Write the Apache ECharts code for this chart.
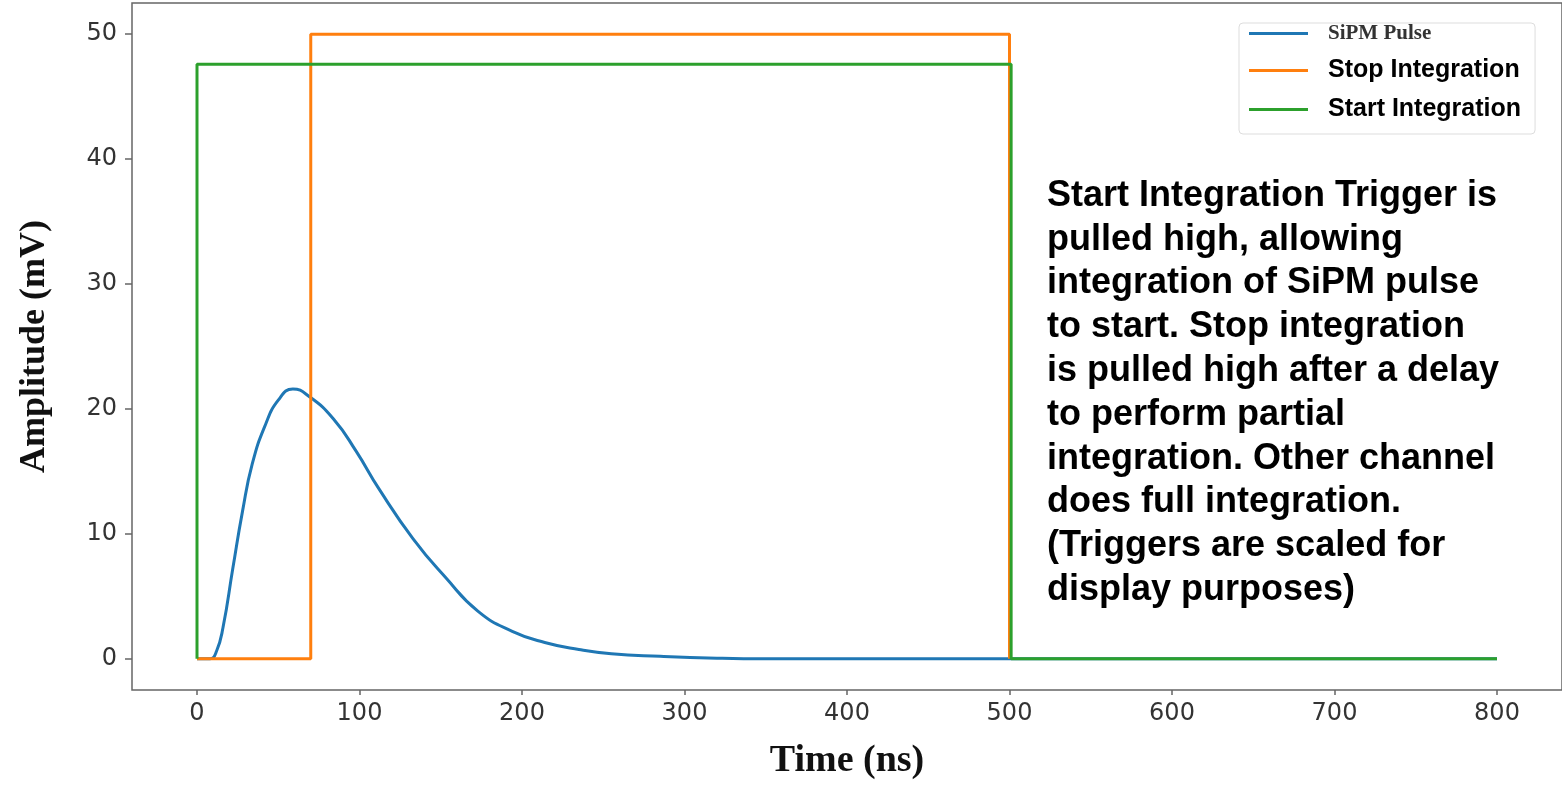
<!DOCTYPE html>
<html>
<head>
<meta charset="utf-8">
<script src="https://cdn.jsdelivr.net/npm/echarts@6/dist/echarts.min.js"></script>
<style>
  html, body { margin: 0; padding: 0; background: #fff; }
  #chart { width: 1562px; height: 785px; }
</style>
</head>
<body>
<div id="chart"></div>
<script>
// values (time in ns, amplitude in mV)
const pulseTime = [0, 8, 12, 16, 22, 28, 34, 42, 50, 59, 69, 84, 98, 112, 133, 153, 173, 194, 214, 235, 255, 285, 320, 350, 800]
const pulseAmp  = [0, 0, 0.6, 2.5, 7.2, 11.8, 15.6, 18.7, 20.7, 21.6, 21.0, 19.2, 16.6, 13.6, 9.6, 6.5, 3.8, 2.2, 1.3, 0.74, 0.4, 0.2, 0.05, 0, 0]

const stopTime = [0, 70, 70, 500, 500]
const stopAmp  = [0, 0, 50, 50, 0]

const startTime = [0, 0, 501, 501, 800]
const startAmp  = [0, 47.6, 47.6, 0, 0]

const xTicks = [0, 100, 200, 300, 400, 500, 600, 700, 800]
const yTicks = [0, 10, 20, 30, 40, 50]

const seriesNames = ['SiPM Pulse', 'Stop Integration', 'Start Integration']
const noteLines = [
  'Start Integration Trigger is',
  'pulled high, allowing',
  'integration of SiPM pulse',
  'to start. Stop integration',
  'is pulled high after a delay',
  'to perform partial',
  'integration. Other channel',
  'does full integration.',
  '(Triggers are scaled for',
  'display purposes)'
]

const zip = (xs, ys) => xs.map((x, i) => [x, ys[i]])

const chart = echarts.init(document.getElementById('chart'))

const tickFont = { fontFamily: 'DejaVu Sans', fontSize: 24, color: '#333' }

const option = {
  animation: false,
  backgroundColor: '#fff',
  grid: {
    left: 132,
    top: 3,
    width: 1437,
    bottom: 92.5,
    show: true,
    borderColor: '#666',
    borderWidth: 1.5
  },
  xAxis: {
    type: 'value',
    min: -40,
    max: 840,
    name: 'Time (ns)',
    nameLocation: 'middle',
    nameGap: 52,
    nameTextStyle: { fontFamily: 'Liberation Serif', fontWeight: 'bold', fontSize: 38, color: '#111' },
    axisLine: { show: false, onZero: false },
    splitLine: { show: false },
    axisTick: { show: true, length: 5, customValues: xTicks, lineStyle: { color: '#666', width: 1.5 } },
    axisLabel: { margin: 12, customValues: xTicks, ...tickFont }
  },
  yAxis: {
    type: 'value',
    min: -2.5,
    max: 52.5,
    name: 'Amplitude (mV)',
    nameLocation: 'middle',
    nameGap: 79,
    nameTextStyle: { fontFamily: 'Liberation Serif', fontWeight: 'bold', fontSize: 36, color: '#111' },
    axisLine: { show: false, onZero: false },
    splitLine: { show: false },
    axisTick: { show: true, length: 7, customValues: yTicks, lineStyle: { color: '#666', width: 1.5 } },
    axisLabel: { margin: 15, customValues: yTicks, ...tickFont }
  },
  legend: {
    orient: 'vertical',
    left: 1239,
    top: 23,
    padding: [0, 14, 12, 10],
    itemGap: 14,
    itemWidth: 59,
    itemHeight: 3,
    icon: 'rect',
    backgroundColor: '#fff',
    borderColor: '#ddd',
    borderWidth: 1,
    borderRadius: 4,
    textStyle: { fontFamily: 'Liberation Sans', fontWeight: 'bold', fontSize: 25, color: '#000', lineHeight: 18, padding: [0, 0, 0, 15] },
    data: [
      { name: seriesNames[0], textStyle: { fontFamily: 'Liberation Serif', fontWeight: 'bold', fontSize: 21, color: '#333', padding: [0, 0, 0, 15] } },
      { name: seriesNames[1] },
      { name: seriesNames[2] }
    ]
  },
  graphic: [{
    type: 'text',
    left: 1047,
    top: 174,
    silent: true,
    style: {
      text: noteLines.join('\n'),
      font: 'bold 36px "Liberation Sans", Arial, sans-serif',
      fill: '#000',
      lineHeight: 43.8
    }
  }],
  series: [
    {
      name: seriesNames[0],
      type: 'line',
      data: zip(pulseTime, pulseAmp),
      smooth: 0.5,
      showSymbol: false,
      lineStyle: { color: '#1f77b4', width: 3 },
      itemStyle: { color: '#1f77b4' },
      z: 2
    },
    {
      name: seriesNames[1],
      type: 'line',
      data: zip(stopTime, stopAmp),
      showSymbol: false,
      lineStyle: { color: '#ff7f0e', width: 3 },
      itemStyle: { color: '#ff7f0e' },
      z: 3
    },
    {
      name: seriesNames[2],
      type: 'line',
      data: zip(startTime, startAmp),
      showSymbol: false,
      lineStyle: { color: '#2ca02c', width: 3 },
      itemStyle: { color: '#2ca02c' },
      z: 4
    }
  ]
}

chart.setOption(option)
</script>
</body>
</html>
